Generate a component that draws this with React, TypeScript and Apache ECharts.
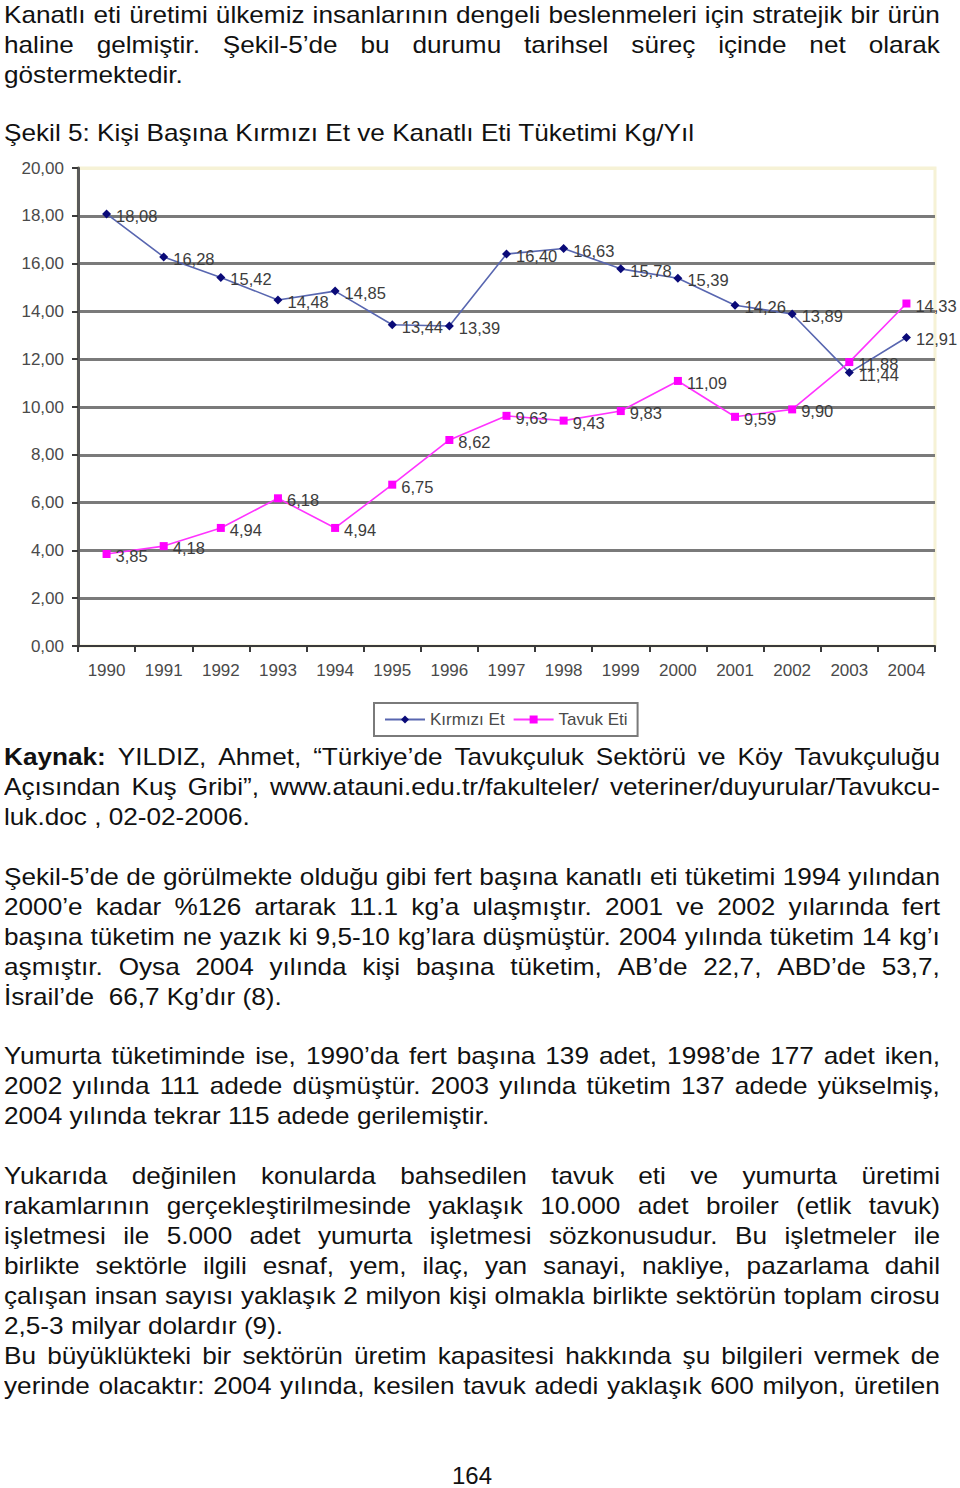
import React, { useEffect, useRef } from "react";
import * as echarts from "echarts";

const years = ["1990","1991","1992","1993","1994","1995","1996","1997","1998","1999","2000","2001","2002","2003","2004"];
const kirmiziEt = [18.08, 16.28, 15.42, 14.48, 14.85, 13.44, 13.39, 16.40, 16.63, 15.78, 15.39, 14.26, 13.89, 11.44, 12.91];
const tavukEti = [3.85, 4.18, 4.94, 6.18, 4.94, 6.75, 8.62, 9.63, 9.43, 9.83, 11.09, 9.59, 9.90, 11.88, 14.33];
const yMin = 0;
const yMax = 20;
const yStep = 2;

type Line = { t: string; y: number; j: boolean; boldPrefix?: string };

const textLines: Line[] = [
  { t: "Kanatlı eti üretimi ülkemiz insanlarının dengeli beslenmeleri için stratejik bir ürün", y: 15, j: true },
  { t: "haline gelmiştir. Şekil-5’de bu durumu tarihsel süreç içinde net olarak", y: 45, j: true },
  { t: "göstermektedir.", y: 75, j: false },
  { t: "Şekil 5: Kişi Başına Kırmızı Et ve Kanatlı Eti Tüketimi Kg/Yıl", y: 133, j: false },
  { t: "YILDIZ, Ahmet, “Türkiye’de Tavukçuluk Sektörü ve Köy Tavukçuluğu", y: 757, j: true, boldPrefix: "Kaynak:" },
  { t: "Açısından Kuş Gribi”, www.atauni.edu.tr/fakulteler/ veteriner/duyurular/Tavukcu-", y: 787, j: true },
  { t: "luk.doc , 02-02-2006.", y: 817, j: false },
  { t: "Şekil-5’de de görülmekte olduğu gibi fert başına kanatlı eti tüketimi 1994 yılından", y: 877, j: true },
  { t: "2000’e kadar %126 artarak 11.1 kg’a ulaşmıştır. 2001 ve 2002 yılarında fert", y: 907, j: true },
  { t: "başına tüketim ne yazık ki 9,5-10 kg’lara düşmüştür. 2004 yılında tüketim 14 kg’ı", y: 937, j: true },
  { t: "aşmıştır. Oysa 2004 yılında kişi başına tüketim, AB’de 22,7, ABD’de 53,7,", y: 967, j: true },
  { t: "İsrail’de  66,7 Kg’dır (8).", y: 997, j: false },
  { t: "Yumurta tüketiminde ise, 1990’da fert başına 139 adet, 1998’de 177 adet iken,", y: 1056, j: true },
  { t: "2002 yılında 111 adede düşmüştür. 2003 yılında tüketim 137 adede yükselmiş,", y: 1086, j: true },
  { t: "2004 yılında tekrar 115 adede gerilemiştir.", y: 1116, j: false },
  { t: "Yukarıda değinilen konularda bahsedilen tavuk eti ve yumurta üretimi", y: 1176, j: true },
  { t: "rakamlarının gerçekleştirilmesinde yaklaşık 10.000 adet broiler (etlik tavuk)", y: 1206, j: true },
  { t: "işletmesi ile 5.000 adet yumurta işletmesi sözkonusudur. Bu işletmeler ile", y: 1236, j: true },
  { t: "birlikte sektörle ilgili esnaf, yem, ilaç, yan sanayi, nakliye, pazarlama dahil", y: 1266, j: true },
  { t: "çalışan insan sayısı yaklaşık 2 milyon kişi olmakla birlikte sektörün toplam cirosu", y: 1296, j: true },
  { t: "2,5-3 milyar dolardır (9).", y: 1326, j: false },
  { t: "Bu büyüklükteki bir sektörün üretim kapasitesi hakkında şu bilgileri vermek de", y: 1356, j: true },
  { t: "yerinde olacaktır: 2004 yılında, kesilen tavuk adedi yaklaşık 600 milyon, üretilen", y: 1386, j: true },
];

const SX = 1.09;
const fmt = (v: number) => v.toFixed(2).replace(".", ",");

function Chart() {
  const ref = useRef<HTMLDivElement>(null);
  useEffect(() => {
    if (!ref.current) return;
    const chart = echarts.init(ref.current, undefined, { renderer: "svg" });
    const gridColors: string[] = [];
    for (let v = yMin; v <= yMax; v += yStep) {
      gridColors.push(v === yMin ? "rgba(0,0,0,0)" : v === yMax ? "#f6f2d6" : "#7a7a7a");
    }
    const labelStyle = {
      show: true,
      position: "right" as const,
      distance: 5,
      offset: [0, 2],
      fontSize: 16.5,
      color: "#3c3c3c",
      fontFamily: "Liberation Sans, Arial, sans-serif",
      formatter: (p: any) => fmt(p.value),
    };
    chart.setOption({
      animation: false,
      backgroundColor: "#ffffff",
      grid: {
        left: 78,
        right: 25,
        top: 18,
        bottom: 94,
        show: true,
        backgroundColor: "#ffffff",
        borderColor: "#f6f2d6",
        borderWidth: 3,
      },
      legend: {
        left: 374,
        top: 553,
        padding: [8, 10, 8, 10],
        itemGap: 8,
        itemWidth: 40,
        itemHeight: 10,
        borderColor: "#7a7a7a",
        borderWidth: 2,
        backgroundColor: "#ffffff",
        textStyle: { fontSize: 17, color: "#4a4a4a", fontFamily: "Liberation Sans, Arial, sans-serif" },
        data: ["Kırmızı Et", "Tavuk Eti"],
      },
      xAxis: {
        type: "category",
        data: years,
        boundaryGap: true,
        axisLine: { show: true, lineStyle: { color: "#3a3a3a", width: 2 } },
        axisTick: { show: true, length: 6, lineStyle: { color: "#3a3a3a", width: 2 } },
        axisLabel: { fontSize: 17, color: "#4a4a4a", margin: 16, fontFamily: "Liberation Sans, Arial, sans-serif" },
        splitLine: { show: false },
      },
      yAxis: {
        type: "value",
        min: yMin,
        max: yMax,
        interval: yStep,
        axisLine: { show: true, lineStyle: { color: "#5a5a5a", width: 3 } },
        axisTick: { show: true, length: 6, lineStyle: { color: "#3a3a3a", width: 2 } },
        axisLabel: {
          fontSize: 17,
          color: "#4a4a4a",
          margin: 14,
          fontFamily: "Liberation Sans, Arial, sans-serif",
          formatter: (v: number) => fmt(v),
        },
        splitLine: { show: true, lineStyle: { color: gridColors, width: 2.8 } },
      },
      series: [
        {
          name: "Kırmızı Et",
          type: "line",
          data: kirmiziEt,
          symbol: "diamond",
          symbolSize: 9,
          lineStyle: { color: "#5866b0", width: 1.6 },
          itemStyle: { color: "#0a0a78" },
          label: labelStyle,
        },
        {
          name: "Tavuk Eti",
          type: "line",
          data: tavukEti,
          symbol: "rect",
          symbolSize: 8,
          lineStyle: { color: "#ff33ff", width: 1.6 },
          itemStyle: { color: "#ff00ff" },
          label: labelStyle,
        },
      ],
    });
    return () => chart.dispose();
  }, []);
  return <div ref={ref} style={{ position: "absolute", left: 0, top: 150, width: 960, height: 590 }} />;
}

const baseText: React.CSSProperties = {
  position: "absolute",
  left: 4,
  height: 30,
  lineHeight: "30px",
  fontSize: 24,
  fontFamily: "'Liberation Sans', Arial, sans-serif",
  color: "#111",
  whiteSpace: "pre",
  transformOrigin: "0 0",
};

function TextLine({ l }: { l: Line }) {
  if (!l.j) {
    return (
      <div style={{ ...baseText, top: l.y - 15, transform: `scaleX(${SX})` }}>
        {l.boldPrefix ? <b>{l.boldPrefix} </b> : null}
        {l.t}
      </div>
    );
  }
  const words = l.t.split(" ");
  return (
    <div
      style={{
        ...baseText,
        top: l.y - 15,
        width: 936 / SX,
        display: "flex",
        justifyContent: "space-between",
        transform: `scaleX(${SX})`,
      }}
    >
      {l.boldPrefix ? <b>{l.boldPrefix}</b> : null}
      {words.map((w, i) => (
        <span key={i}>{w}</span>
      ))}
    </div>
  );
}

export default function App() {
  return (
    <div style={{ position: "relative", width: 960, height: 1488, background: "#fff", overflow: "hidden" }}>
      <style>{"body{margin:0;background:#fff;}"}</style>
      {textLines.map((l, i) => (
        <TextLine key={i} l={l} />
      ))}
      <Chart />
      <div
        style={{
          position: "absolute",
          left: 0,
          top: 1461,
          width: 944,
          textAlign: "center",
          fontSize: 24,
          lineHeight: "30px",
          fontFamily: "'Liberation Sans', Arial, sans-serif",
          color: "#111",
        }}
      >
        164
      </div>
    </div>
  );
}
